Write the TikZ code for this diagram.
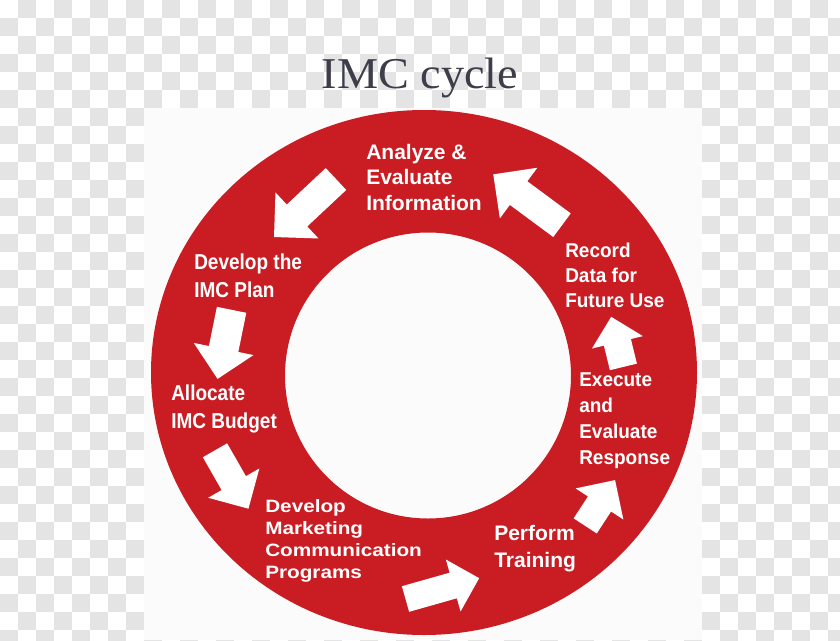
\documentclass[tikz,border=0pt]{standalone}
\usepackage{fontspec}
\setmainfont{Liberation Serif}
\newfontfamily\titleserif[FakeStretch=1.05]{Liberation Serif}
\newfontfamily\stepsans{Liberation Sans}
\newfontfamily\narrowsans[FakeStretch=0.88]{Liberation Sans}
\newfontfamily\semisans[FakeStretch=0.95]{Liberation Sans}
\newfontfamily\widesans[FakeStretch=1.16]{Liberation Sans}

\definecolor{imcred}{HTML}{C91C23}
\definecolor{titlegray}{HTML}{3E3E4A}
\definecolor{checkgray}{HTML}{E4E4E4}
\definecolor{panelwhite}{HTML}{FBFBFB}

\tikzset{
    steplabel/.style={text=white, align=left, anchor=north west, inner sep=0pt},
}

% white block arrow: tail x, tail y, angle, shaft length, shaft width, head width
\newcommand{\imcarrow}[6]{%
    \fill[white, shift={(#1,#2)}, rotate=#3]
        (0,-#5/2) -- (#4,-#5/2) -- (#4,-#6/2) -- ({#4+#6/2},0)
        -- (#4,#6/2) -- (#4,#5/2) -- (0,#5/2) -- cycle;}

\begin{document}
\begin{tikzpicture}[x=0.75pt, y=-0.75pt]
    \useasboundingbox (0,0) rectangle (840,640);

    % Fundo quadriculado e painel branco
    \fill[white] (0,0) rectangle (840,640);
    \foreach \i in {0,2,...,46}
        \foreach \j in {1,3,...,35}
            \fill[checkgray] (18*\i,18*\j) rectangle ++(18,18);
    \foreach \i in {1,3,...,45}
        \foreach \j in {0,2,...,34}
            \fill[checkgray] (18*\i,18*\j) rectangle ++(18,18);
    \fill[panelwhite] (144,108) rectangle (702,640);

    % Titulo
    \node[anchor=base, text=titlegray, font=\titleserif\fontsize{33pt}{36pt}\selectfont]
        (title) at (420,88) {IMC cycle};

    % Anel vermelho
    \fill[imcred, even odd rule] (424,372.5) ellipse [x radius=273, y radius=262.5]
        (428,375.5) circle [radius=143];

    % Setas do ciclo
    \imcarrow{336}{179}{223.1}{53.4}{30}{63}
    \imcarrow{231.6}{309.8}{258.5}{40}{30}{61}
    \imcarrow{215}{450.3}{-60.2}{37.8}{28}{59}
    \imcarrow{405.5}{599}{15.8}{49.6}{26.6}{54}
    \imcarrow{585.2}{525.9}{56.9}{26.2}{27.6}{57}
    \imcarrow{623.4}{366.9}{103.7}{25.3}{27.8}{52.5}
    \imcarrow{562}{225.2}{143.5}{54}{29.4}{63}

    % Etapas
    \node[steplabel, font=\stepsans\bfseries\fontsize{15.75pt}{19.1pt}\selectfont]
        (analyze) at (366,143.7) {Analyze \&\\Evaluate\\Information};
    \node[steplabel, font=\narrowsans\bfseries\fontsize{16.2pt}{21pt}\selectfont]
        (plan) at (194,253.2) {Develop the\\IMC Plan};
    \node[steplabel, font=\narrowsans\bfseries\fontsize{16.2pt}{21pt}\selectfont]
        (budget) at (171,384.2) {Allocate\\IMC Budget};
    \node[steplabel, font=\widesans\bfseries\fontsize{13.4pt}{16.7pt}\selectfont]
        (programs) at (265,498.9) {Develop\\Marketing\\Communication\\Programs};
    \node[steplabel, font=\stepsans\bfseries\fontsize{15.75pt}{20.25pt}\selectfont]
        (training) at (494,524.7) {Perform\\Training};
    \node[steplabel, font=\semisans\bfseries\fontsize{15pt}{19.35pt}\selectfont]
        (response) at (579,372.7) {Execute\\and\\Evaluate\\Response};
    \node[steplabel, font=\semisans\bfseries\fontsize{15pt}{18.75pt}\selectfont]
        (record) at (565,242.4) {Record\\Data for\\Future Use};
\end{tikzpicture}
\end{document}
